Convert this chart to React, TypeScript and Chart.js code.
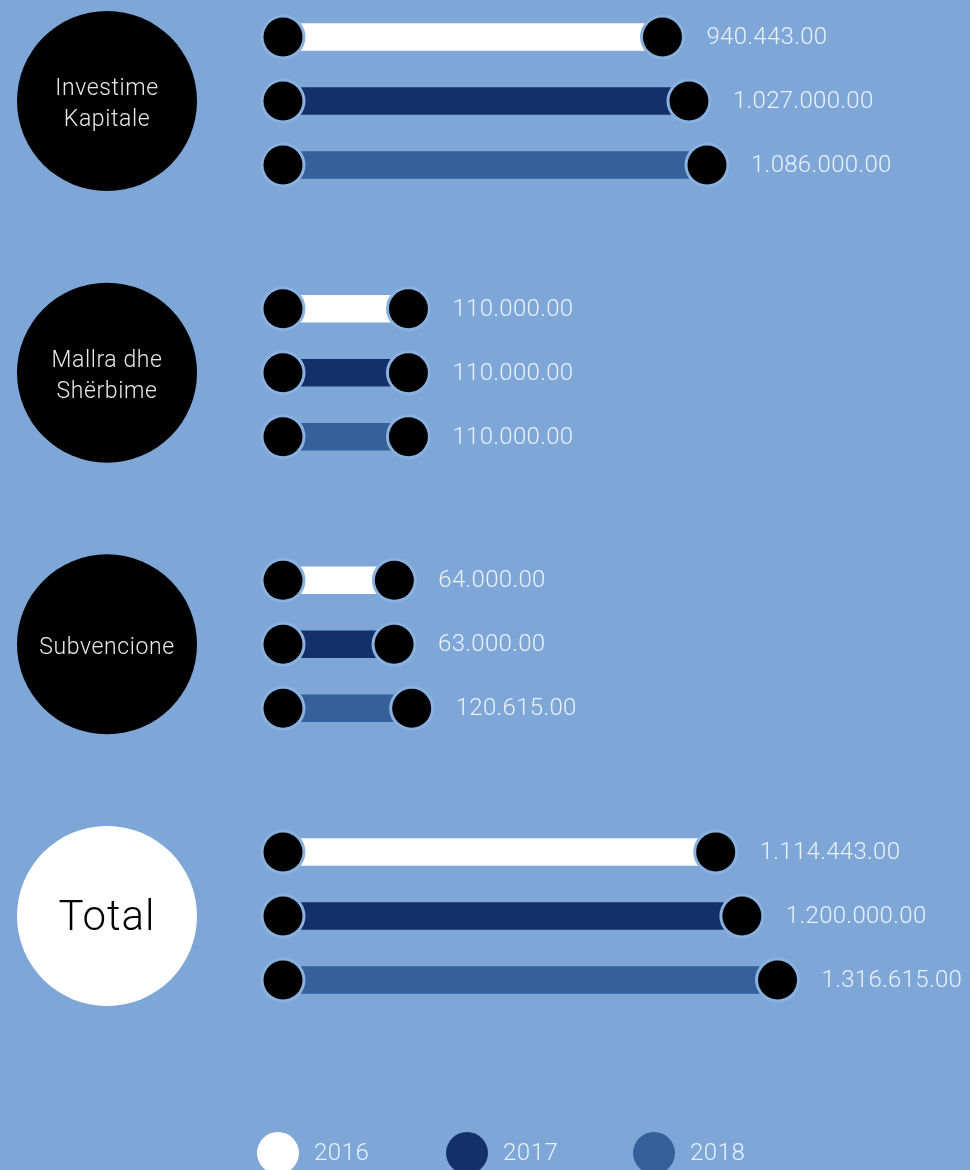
import React, { useEffect, useRef } from "react";
import { Chart, registerables } from "chart.js";

Chart.register(...registerables);

// ---- data ----
const CATEGORIES: string[][] = [
  ["Investime", "Kapitale"],
  ["Mallra dhe", "Shërbime"],
  ["Subvencione"],
  ["Total"],
];
const YEARS = ["2016", "2017", "2018"];
const VALUES_2016 = [940443, 110000, 64000, 1114443];
const VALUES_2017 = [1027000, 110000, 63000, 1200000];
const VALUES_2018 = [1086000, 110000, 120615, 1316615];

// ---- styles ----
const BG = "#7ea7d8";
const RING = "#8ab2e0";
const YEAR_COLORS = ["#ffffff", "#13306a", "#35609a"];
const TEXT_LIGHT = "#eaf1fa";
const FONT = "Roboto";
const X_MIN = -300000;
const X_MAX = 1900000;

function fmt(v: number): string {
  const s = Math.round(v).toString();
  return s.replace(/\B(?=(\d{3})+(?!\d))/g, ".") + ".00";
}

const decorPlugin = {
  id: "decor",
  afterDatasetsDraw(chart: any) {
    const ctx: CanvasRenderingContext2D = chart.ctx;
    const yScale = chart.scales.y;
    ctx.save();
    // category circles
    const labels = chart.data.labels as string[][];
    labels.forEach((lab, i) => {
      const cy = yScale.getPixelForValue(i);
      const isTotal = i === labels.length - 1;
      ctx.beginPath();
      ctx.arc(107, cy, 90, 0, Math.PI * 2);
      ctx.fillStyle = isTotal ? "#ffffff" : "#000000";
      ctx.fill();
      ctx.textAlign = "center";
      ctx.textBaseline = "middle";
      if (isTotal) {
        ctx.fillStyle = "#000000";
        ctx.font = `300 42px ${FONT}`;
        (ctx as any).letterSpacing = "1px";
        ctx.fillText(lab[0], 107, cy + 3);
      } else {
        ctx.fillStyle = "#e8e8e8";
        ctx.font = `300 23px ${FONT}`;
        (ctx as any).letterSpacing = "0.6px";
        const lh = 31;
        const n = lab.length;
        lab.forEach((line, k) => {
          ctx.fillText(line, 107, cy + 4 + (k - (n - 1) / 2) * lh);
        });
      }
    });
    (ctx as any).letterSpacing = "0px";
    // dots and value labels
    chart.data.datasets.forEach((ds: any, di: number) => {
      const meta = chart.getDatasetMeta(di);
      meta.data.forEach((el: any, j: number) => {
        const { x, y, base } = el.getProps(["x", "y", "base"], true);
        [base, x].forEach((px: number) => {
          ctx.beginPath();
          ctx.arc(px, y, 22.5, 0, Math.PI * 2);
          ctx.fillStyle = RING;
          ctx.fill();
          ctx.beginPath();
          ctx.arc(px, y, 19.5, 0, Math.PI * 2);
          ctx.fillStyle = "#000000";
          ctx.fill();
        });
        ctx.fillStyle = TEXT_LIGHT;
        ctx.font = `300 24px ${FONT}`;
        ctx.textAlign = "left";
        ctx.textBaseline = "middle";
        (ctx as any).letterSpacing = "0.3px";
        ctx.fillText(fmt(ds.data[j]), x + 44, y + 1);
        (ctx as any).letterSpacing = "0px";
      });
    });
    // legend
    const legendX = [278, 467, 654];
    chart.data.datasets.forEach((ds: any, di: number) => {
      const cx = legendX[di];
      const cy = 1153;
      ctx.beginPath();
      ctx.arc(cx, cy, 21, 0, Math.PI * 2);
      ctx.fillStyle = ds.backgroundColor;
      ctx.fill();
      ctx.fillStyle = TEXT_LIGHT;
      ctx.font = `300 24px ${FONT}`;
      ctx.textAlign = "left";
      ctx.textBaseline = "middle";
      (ctx as any).letterSpacing = "0.5px";
      ctx.fillText(ds.label, cx + 36, cy + 1);
      (ctx as any).letterSpacing = "0px";
    });
    ctx.restore();
  },
};

export default function App() {
  const canvasRef = useRef<HTMLCanvasElement | null>(null);

  useEffect(() => {
    document.body.style.margin = "0";
    document.body.style.background = BG;
    const series = [VALUES_2016, VALUES_2017, VALUES_2018];
    const chart = new Chart(canvasRef.current as HTMLCanvasElement, {
      type: "bar",
      data: {
        labels: CATEGORIES as any,
        datasets: YEARS.map((yr, i) => ({
          label: yr,
          data: series[i],
          backgroundColor: YEAR_COLORS[i],
          borderWidth: 0,
          base: X_MIN,
          clip: false as any,
          categoryPercentage: 0.7067,
          barPercentage: 0.43,
        })),
      },
      options: {
        indexAxis: "y",
        responsive: false,
        animation: false,
        layout: { padding: { left: 283, right: 14, top: 101, bottom: 254 } },
        scales: {
          x: { type: "linear", display: false, min: X_MIN, max: X_MAX },
          y: { type: "category", display: false, offset: false },
        },
        plugins: {
          legend: { display: false },
          tooltip: { enabled: false },
        },
      },
      plugins: [decorPlugin],
    });
    return () => chart.destroy();
  }, []);

  return (
    <div style={{ width: 970, height: 1170, background: BG, overflow: "hidden" }}>
      <canvas ref={canvasRef} width={970} height={1170} style={{ display: "block" }} />
    </div>
  );
}
